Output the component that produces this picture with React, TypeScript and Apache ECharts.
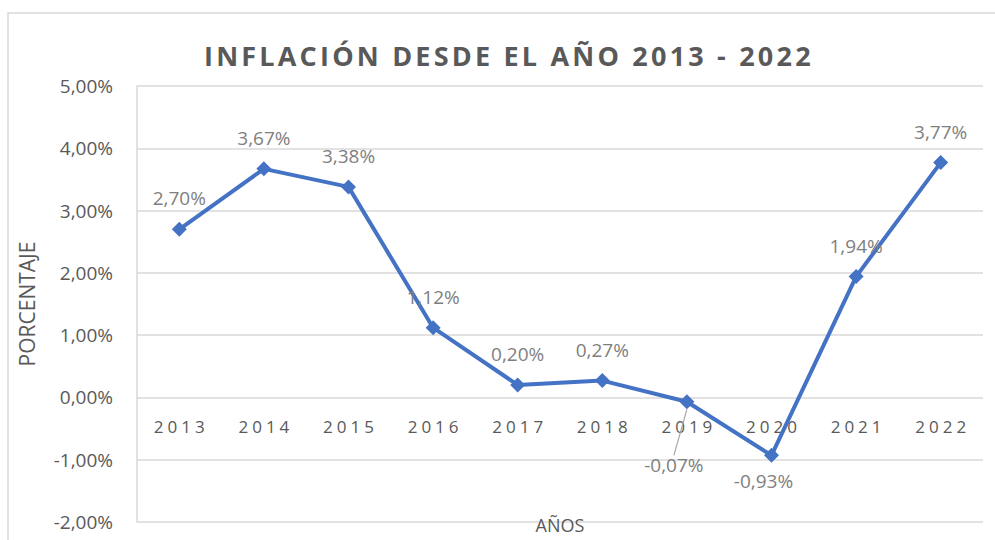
import React, { useEffect, useRef } from "react";
import * as echarts from "echarts";

const years = ["2013", "2014", "2015", "2016", "2017", "2018", "2019", "2020", "2021", "2022"];
const inflation = [2.7, 3.67, 3.38, 1.12, 0.2, 0.27, -0.07, -0.93, 1.94, 3.77];
const yMin = -2;
const yMax = 5;
const yInterval = 1;
const titleText = "INFLACIÓN DESDE EL AÑO 2013 - 2022";
const yName = "PORCENTAJE";
const xName = "AÑOS";

const fmt = (v: number) => v.toFixed(2).replace(".", ",") + "%";

export default function App() {
  const ref = useRef<HTMLDivElement>(null);
  useEffect(() => {
    if (!ref.current) return;
    const chart = echarts.init(ref.current, undefined, { renderer: "svg" });
    const labelColor = "#7f7f7f";
    const movedIndex = 6;
    const H = 540;
    const gridTop = 86;
    const gridBottom = 18;
    const plotH = H - gridTop - gridBottom;
    const zeroOffset = -(plotH * (0 - yMin)) / (yMax - yMin);
    chart.setOption({
      animation: false,
      backgroundColor: "#ffffff",
      title: {
        text: titleText,
        left: 199,
        top: 37,
        textStyle: {
          fontFamily: "Open Sans, Verdana",
          fontWeight: "bold",
          fontSize: 27,
          color: "#595959",
        },
      },
      graphic: [
        {
          type: "rect",
          shape: { x: 8, y: 13, width: 1100, height: 700 },
          style: { fill: "none", stroke: "#d9d9d9", lineWidth: 1.5 },
          z: -10,
          silent: true,
        },
      ],
      grid: { left: 137, right: 12, top: gridTop, bottom: gridBottom, outerBoundsMode: "none", containLabel: false },
      xAxis: {
        type: "category",
        data: years,
        boundaryGap: true,
        offset: zeroOffset,
        axisLine: { show: false, onZero: false },
        axisTick: { show: false },
        axisLabel: {
          interval: 0,
          margin: 21,
          fontFamily: "Open Sans, Arial",
          fontSize: 17,
          color: "#595959",
          padding: [0, 0, 0, 4],
        },
        name: xName,
        nameLocation: "middle",
        nameGap: 119,
        nameTextStyle: { fontFamily: "Open Sans", fontSize: 18, color: "#595959" },
      },
      yAxis: {
        type: "value",
        min: yMin,
        max: yMax,
        interval: yInterval,
        axisLine: { show: true, lineStyle: { color: "#d9d9d9", width: 1.5 } },
        axisTick: { show: false },
        splitLine: { show: true, lineStyle: { color: "#d9d9d9", width: 1.5 } },
        axisLabel: {
          formatter: (v: number) => fmt(v),
          margin: 24,
          fontFamily: "Open Sans",
          fontSize: 19,
          color: "#595959",
        },
        name: yName,
        nameLocation: "middle",
        nameGap: 100,
        nameTextStyle: { fontFamily: "Open Sans", fontSize: 21, color: "#595959" },
      },
      series: [
        {
          type: "line",
          data: inflation.map((v, i) => ({
            value: v,
            label:
              v < 0
                ? { position: "bottom", distance: 9 }
                : { position: "top", distance: 14 },
            labelLine: { show: i === movedIndex },
          })),
          symbol: "diamond",
          symbolSize: 15,
          lineStyle: { color: "#4472C4", width: 4 },
          itemStyle: { color: "#4472C4" },
          label: {
            show: true,
            formatter: (p: any) => fmt(p.value),
            fontFamily: "Open Sans",
            fontSize: 19,
            color: labelColor,
          },
          labelLine: { show: false, lineStyle: { color: "#a6a6a6", width: 1.2 } },
          labelLayout: (p: any) =>
            p.dataIndex === movedIndex
              ? { dx: -13, dy: 37 }
              : inflation[p.dataIndex] < 0
              ? { dx: -8 }
              : {},
        },
      ],
    });
    return () => chart.dispose();
  }, []);
  return (
    <>
      <style>{`
        text[style*="Verdana"] { letter-spacing: 3.2px; }
        text[style*="Arial"] { letter-spacing: 4px; }
      `}</style>
      <div
        ref={ref}
        style={{ position: "absolute", left: 0, top: 0, width: 995, height: 540 }}
      />
    </>
  );
}
